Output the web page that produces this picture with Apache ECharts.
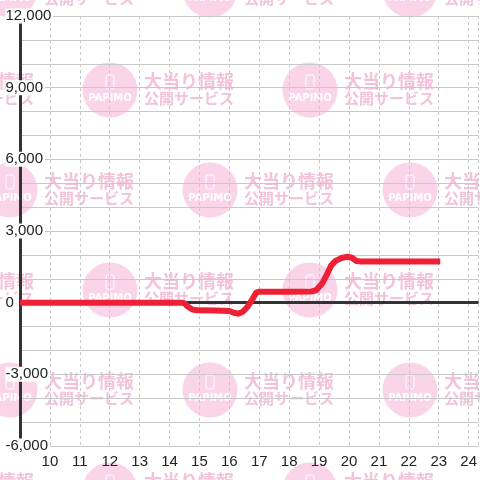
<!DOCTYPE html>
<html>
<head>
<meta charset="utf-8">
<script src="https://cdn.jsdelivr.net/npm/echarts@6/dist/echarts.min.js"></script>
<style>html,body{margin:0;padding:0;background:#fff}#c{width:480px;height:480px}</style>
</head>
<body>
<div id="c"></div>
<script>
// Data
const hours = [9, 14.4, 14.5, 14.6, 14.75, 14.9, 15.5, 16.0, 16.15, 16.3, 16.45, 16.6, 16.75, 16.9, 17.0, 18.0, 18.75, 18.9, 19.1, 19.25, 19.4, 19.55, 19.75, 19.95, 20.1, 20.25, 20.4, 23.05];
const values = [0, 0, -30, -150, -280, -320, -330, -350, -420, -460, -380, -180, 100, 420, 460, 460, 470, 520, 800, 1150, 1550, 1750, 1870, 1920, 1880, 1740, 1720, 1720];
const xTicks = [10, 11, 12, 13, 14, 15, 16, 17, 18, 19, 20, 21, 22, 23, 24];
const yTickLabels = [-6000, -3000, 0, 3000, 6000, 9000, 12000];
const wmLine1 = '大当り情報';
const wmLine2 = '公開サービス';
const wmLogo = 'PAPIMO';

// watermark tiles
const tiles = [];
const rowsY = [-10, 90, 190, 290, 390, 490];
rowsY.forEach((y, i) => {
  const xs = i % 2 === 0 ? [10, 210, 410] : [-90, 110, 310];
  xs.forEach(x => tiles.push([x, y]));
});
const pinkCircle = '#fad4e9';
const pinkText = '#f3c2db';
const graphics = [];
tiles.forEach(([cx, cy]) => {
  graphics.push({type: 'circle', z: -10, silent: true, shape: {cx: cx, cy: cy, r: 27.5}, style: {fill: pinkCircle}});
  graphics.push({type: 'rect', z: -9, silent: true, shape: {x: cx - 4, y: cy - 15, width: 8, height: 14, r: 1.5}, style: {fill: 'none', stroke: '#fff', lineWidth: 1}});
  graphics.push({type: 'text', z: -9, silent: true, x: cx, y: cy + 8, style: {text: wmLogo, fill: '#fff', font: 'bold 10px "DejaVu Sans"', align: 'center', verticalAlign: 'middle'}});
  graphics.push({type: 'text', z: -9, silent: true, x: cx + 34, y: cy - 9, style: {text: wmLine1, fill: pinkText, font: 'bold 18px "Noto Sans CJK JP"', align: 'left', verticalAlign: 'middle'}});
  graphics.push({type: 'text', z: -9, silent: true, x: cx + 34, y: cy + 8, style: {text: wmLine2, fill: pinkText, font: 'bold 15px "Noto Sans CJK JP"', align: 'left', verticalAlign: 'middle'}});
});

const chart = echarts.init(document.getElementById('c'));
chart.setOption({
  animation: false,
  backgroundColor: '#fff',
  graphic: graphics,
  grid: {left: 20, right: 0, top: 16, bottom: 34, containLabel: false},
  xAxis: {
    type: 'value', min: 9, max: 24.333, interval: 1,
    axisLine: {show: false}, axisTick: {show: false},
    splitLine: {show: true, lineStyle: {color: '#c8c8c8', type: [3, 3], width: 1}},
    axisLabel: {
      color: '#222', fontSize: 15, fontFamily: 'Liberation Sans', margin: 8,
      showMaxLabel: false, showMinLabel: false,
      formatter: v => xTicks.indexOf(v) >= 0 ? String(v) : ''
    }
  },
  yAxis: {
    type: 'value', min: -6000, max: 12000, interval: 3000,
    axisLine: {show: true, lineStyle: {color: '#333', width: 3}},
    axisTick: {show: false},
    minorTick: {show: false, splitNumber: 3},
    splitLine: {show: true, lineStyle: {color: '#c8c8c8', width: 1}},
    minorSplitLine: {show: true, lineStyle: {color: '#c8c8c8', width: 1}},
    axisLabel: {
      color: '#222', fontSize: 15, fontFamily: 'Liberation Sans',
      align: 'left', margin: 14.5, backgroundColor: '#fff', padding: [0, 2, 0, 0], lineHeight: 15,
      formatter: v => yTickLabels.indexOf(v) >= 0 ? v.toLocaleString('en-US') : ''
    }
  },
  series: [
    {
      type: 'line', z: 1, data: [], silent: true,
      markLine: {
        silent: true, symbol: ['none', 'none'], label: {show: false},
        lineStyle: {color: '#333', width: 3, type: 'solid'},
        data: [{yAxis: 0}]
      }
    },
    {
      type: 'line', z: 5,
      data: hours.map((h, i) => [h, values[i]]),
      showSymbol: false, smooth: false, clip: false,
      lineStyle: {color: '#ee2035', width: 6, cap: 'butt', join: 'round'}
    }
  ]
});
</script>
</body>
</html>
